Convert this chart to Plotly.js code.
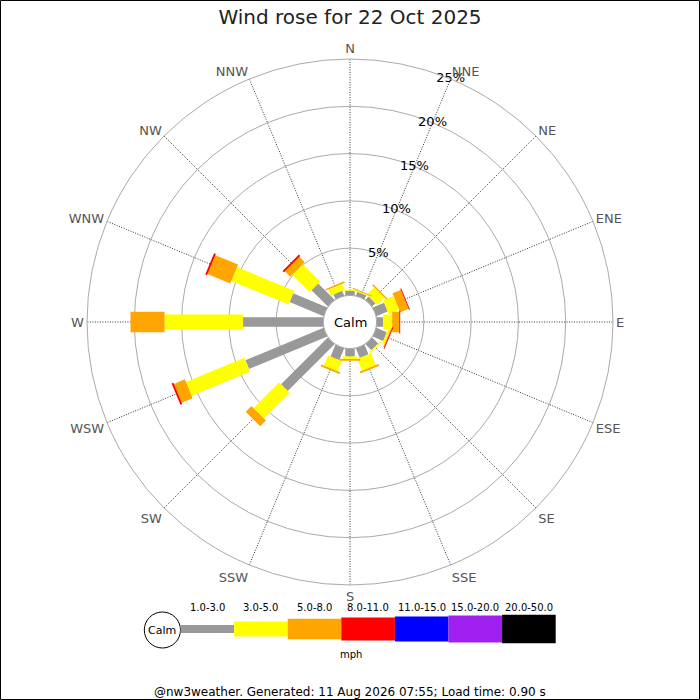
<!DOCTYPE html>
<html>
<head>
<meta charset="utf-8">
<script src="https://cdn.plot.ly/plotly-3.0.1.min.js"></script>
<style>
  html, body { margin: 0; padding: 0; background: #fff; }
  #myDiv { width: 700px; height: 700px; }
</style>
</head>
<body>
<div id="myDiv"></div>
<script>
// directions and their compass angles
var dirs = ['N', 'NNE', 'NE', 'ENE', 'E', 'ESE', 'SE', 'SSE', 'S', 'SSW', 'SW', 'WSW', 'W', 'WNW', 'NW', 'NNW'];
var dirAngles = [0, 22.5, 45, 67.5, 90, 112.5, 135, 157.5, 180, 202.5, 225, 247.5, 270, 292.5, 315, 337.5];

// % of time per speed class (mph)
var spd1to3 = [0.5, 0.45, 0.5, 1.3, 0.7, 1.2, 0.9, 1.1, 0.85, 1.35, 7.0, 8.95, 8.5, 3.9, 2.45, 0.55];
var spd3to5 = [0.1, 0.1, 1.1, 1.2, 0.95, 0.25, 0.15, 1.35, 0.25, 1.15, 3.85, 6.7, 8.3, 6.55, 2.6, 0.7];
var spd5to8 = [0, 0.1, 0.15, 0.95, 0.75, 0.1, 0, 0.2, 0.2, 0.2, 0.85, 1.25, 3.6, 2.6, 0.8, 0.15];
var spd8to11 = [0, 0, 0, 0.1, 0.1, 0.1, 0, 0, 0, 0, 0, 0.2, 0, 0.2, 0.2, 0];

var classLabels = ['1.0-3.0', '3.0-5.0', '5.0-8.0', '8.0-11.0', '11.0-15.0', '15.0-20.0', '20.0-50.0'];
var classColors = ['#999999', '#ffff00', '#ffa500', '#ff0000', '#0000ff', '#a020f0', '#000000'];
var radialTicks = [5, 10, 15, 20, 25];
var radialText = ['5%', '10%', '15%', '20%', '25%'];
var labelDir = 22.5;   // radial labels sit on the NNE line

var series = [spd1to3, spd3to5, spd5to8, spd8to11];
var halfWidth = [0.5, 0.79, 1.08, 1.22];  // bar half width in % units

var HOLE = 0.101, RMAX = 25;
var R0 = HOLE * RMAX / (1 - HOLE);   // calm radius in % units

// rectangle (constant width) from a to b along a direction, in polar data coords
function rectCorners(theta, a, b, hw) {
  var pts = [[a, -1], [b, -1], [b, 1], [a, 1], [a, -1]];
  var r = [], t = [];
  pts.forEach(function (p) {
    var D = p[0] + R0;
    r.push(Math.sqrt(D * D + hw * hw) - R0);
    t.push(theta + p[1] * Math.atan2(hw, D) * 180 / Math.PI);
  });
  return {r: r, t: t};
}

var data = [];
var base = dirs.map(function () { return 0; });
series.forEach(function (vals, k) {
  var r = [], t = [];
  vals.forEach(function (v, i) {
    if (v > 0) {
      var c = rectCorners(dirAngles[i], base[i], base[i] + v, halfWidth[k]);
      r = r.concat(c.r, [null]);
      t = t.concat(c.t, [null]);
    }
    base[i] += v;
  });
  data.push({
    type: 'scatterpolar', r: r, theta: t, mode: 'lines', fill: 'toself',
    fillcolor: classColors[k], line: {width: 0, color: classColors[k]},
    connectgaps: false, hoverinfo: 'skip', showlegend: false
  });
});

// percentage labels on the rings
data.push({
  type: 'scatterpolar', mode: 'text', r: radialTicks,
  theta: radialTicks.map(function () { return labelDir; }),
  text: radialText, textposition: 'middle center',
  textfont: {size: 13, color: '#000', family: 'DejaVu Sans'},
  hoverinfo: 'skip', showlegend: false
});

// pixel helpers for paper coords
function px(x) { return x / 700; }
function py(y) { return 1 - y / 700; }

function note(text, x, y, size) {
  return {text: text, x: px(x), y: py(y), xref: 'paper', yref: 'paper', showarrow: false,
    xanchor: 'center', yanchor: 'middle', font: {size: size, color: '#000'}};
}

var shapes = [
  {type: 'rect', xref: 'paper', yref: 'paper', x0: 0.0007, x1: 0.9993, y0: 0.0007, y1: 0.9993,
   line: {color: '#000', width: 1}},
  {type: 'circle', xref: 'paper', yref: 'paper', layer: 'above',
   x0: px(350 - 26.6), x1: px(350 + 26.6), y0: py(322 + 26.6), y1: py(322 - 26.6),
   fillcolor: '#fff', line: {color: '#aaa', width: 1}},
  // legend
  {type: 'circle', xref: 'paper', yref: 'paper',
   x0: px(144.3), x1: px(180.5), y0: py(648), y1: py(612),
   fillcolor: '#fff', line: {color: '#000', width: 1}}
];
var legH = [8, 15, 20.5, 23, 25, 27, 28.5];
var annotations = [
  note('Calm', 350, 322, 13),
  note('Calm', 162.3, 630, 11),
  note('mph', 351, 654, 10),
  note('@nw3weather. Generated: 11 Aug 2026 07:55; Load time: 0.90 s', 350, 692, 12)
];
classLabels.forEach(function (lab, i) {
  var x0 = 180.5 + i * 53.6, x1 = x0 + 53.6;
  shapes.push({type: 'rect', xref: 'paper', yref: 'paper', x0: px(x0), x1: px(x1),
    y0: py(629 + legH[i] / 2), y1: py(629 - legH[i] / 2),
    fillcolor: classColors[i], line: {width: 0}});
  annotations.push(note(lab, (x0 + x1) / 2, 607, 10));
});

var layout = {
  width: 700, height: 700,
  margin: {l: 0, r: 0, t: 0, b: 0},
  paper_bgcolor: '#fff',
  font: {family: 'DejaVu Sans', color: '#000'},
  title: {text: 'Wind rose for 22 Oct 2025', x: 0.5, y: 1 - 17 / 700, yanchor: 'middle',
    font: {size: 20, color: '#222'}},
  showlegend: false,
  polar: {
    domain: {x: [87 / 700, 613 / 700], y: [1 - 585 / 700, 1 - 59 / 700]},
    hole: HOLE,
    bgcolor: '#fff',
    radialaxis: {
      range: [0, RMAX], tickmode: 'array', tickvals: radialTicks,
      showticklabels: false, showline: false, ticks: '',
      gridcolor: '#aaa', gridwidth: 1
    },
    angularaxis: {
      rotation: 90, direction: 'clockwise', thetaunit: 'degrees',
      tickmode: 'array', tickvals: dirAngles, ticktext: dirs, ticks: '',
      showline: true, linecolor: '#aaa', linewidth: 1,
      gridcolor: '#333', griddash: '1px,1.5px', gridwidth: 1,
      tickfont: {size: 13, color: '#555'}
    }
  },
  shapes: shapes,
  annotations: annotations
};

Plotly.newPlot('myDiv', data, layout, {staticPlot: true});
</script>
</body>
</html>
